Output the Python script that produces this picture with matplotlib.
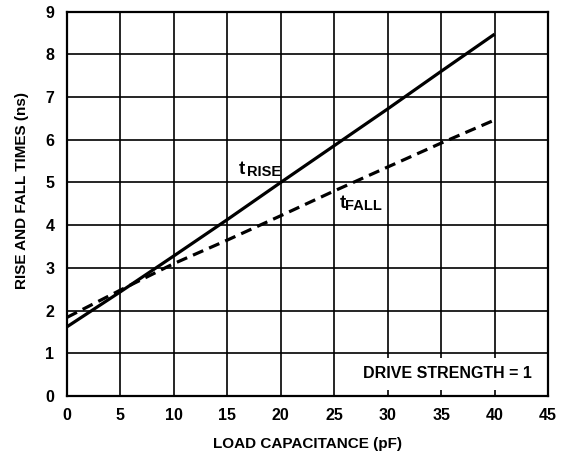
import numpy as np
import matplotlib
matplotlib.use("Agg")
import matplotlib.pyplot as plt

plt.rcParams['font.family'] = ['Liberation Sans', 'DejaVu Sans']
plt.rcParams['font.weight'] = 'bold'
plt.rcParams['axes.labelweight'] = 'bold'

# data
cap_pf = [0, 5, 10, 15, 20, 25, 30, 35, 40]
t_rise = [1.62, 2.44, 3.28, 4.13, 5.0, 5.86, 6.72, 7.6, 8.47]
t_fall = [1.84, 2.48, 3.1, 3.65, 4.22, 4.8, 5.36, 5.92, 6.46]
x_ticks = [0, 5, 10, 15, 20, 25, 30, 35, 40, 45]
y_ticks = [0, 1, 2, 3, 4, 5, 6, 7, 8, 9]

fig = plt.figure(figsize=(5.63, 4.57), dpi=100)
ax = fig.add_axes([0.119, 0.1335, 0.8544, 0.8413])

ax.set_xlim(0, 45)
ax.set_ylim(0, 9)
ax.set_xticks(x_ticks)
ax.set_yticks(y_ticks)
ax.tick_params(length=0, pad=9, labelsize=11.5)
ax.grid(True, color='black', linewidth=1.2)
ax.set_axisbelow(True)
for sp in ax.spines.values():
    sp.set_linewidth(1.6)

ax.plot(cap_pf, t_rise, color='black', linewidth=2.3, solid_capstyle='butt')
ax.plot(cap_pf, t_fall, color='black', linewidth=2.3, linestyle=(0, (3.5, 2.0)))

# curve labels
ax.text(16.1, 5.19, 't', fontsize=13.5, va='baseline', ha='left')
ax.text(16.8, 5.15, 'RISE', fontsize=10.5, va='baseline', ha='left')
ax.text(25.5, 4.41, 't', fontsize=13.5, va='baseline', ha='left')
ax.text(26.05, 4.35, 'FALL', fontsize=10.5, va='baseline', ha='left')

ax.text(43.5, 0.52, 'DRIVE STRENGTH = 1', fontsize=11.5, ha='right', va='center',
        bbox=dict(facecolor='white', edgecolor='none', pad=6))

ax.set_xlabel('LOAD CAPACITANCE (pF)', fontsize=11, fontweight='bold', labelpad=10)
ax.set_ylabel('RISE AND FALL TIMES (ns)', fontsize=11, fontweight='bold', labelpad=12)
ax.yaxis.set_label_coords(-0.078, 0.535)

fig.savefig('out.png', dpi=100)
